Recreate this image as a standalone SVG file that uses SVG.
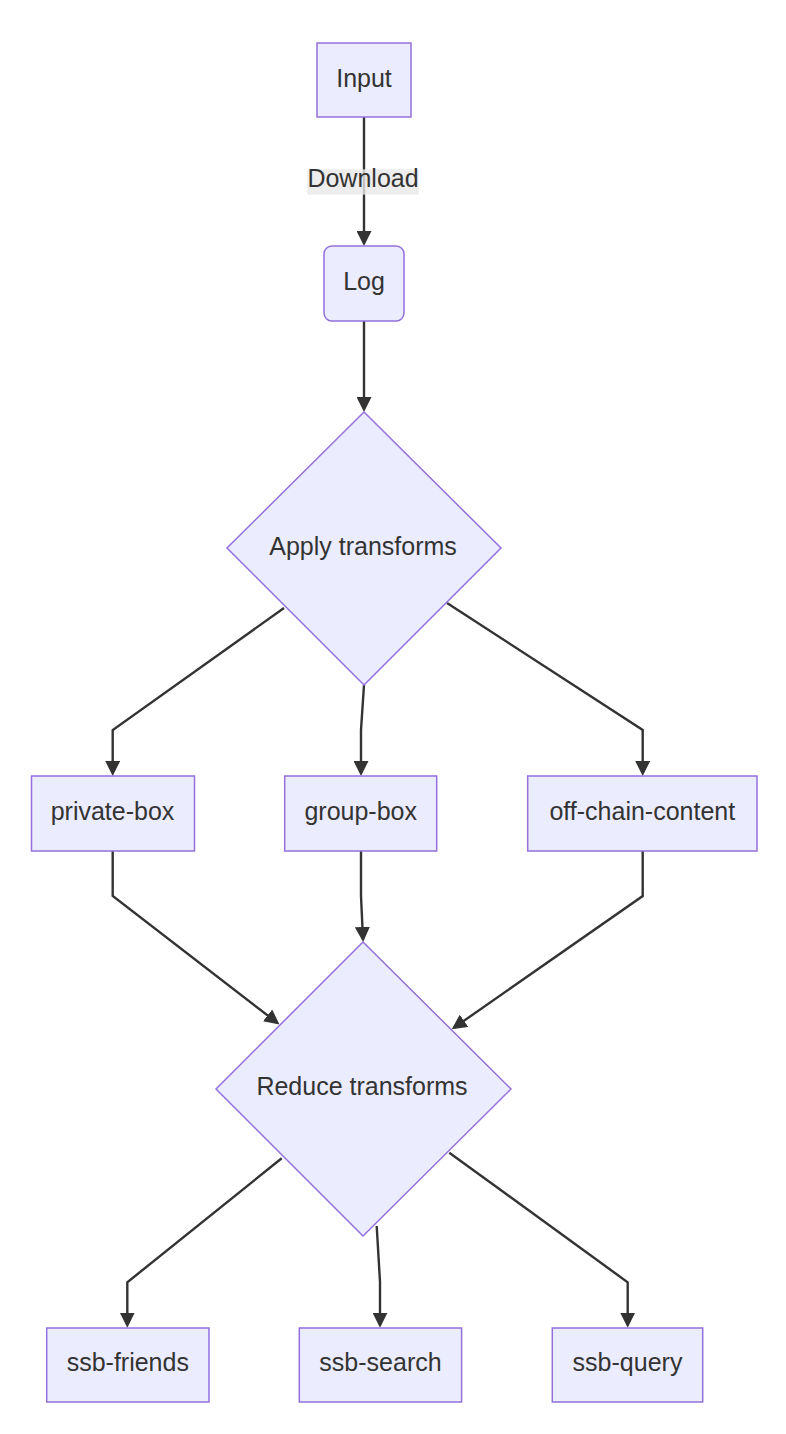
<svg xmlns="http://www.w3.org/2000/svg" width="786" height="1434" viewBox="0 0 786 1434">
<style>
.node rect, .node polygon { fill: #ECECFF; stroke: #9370DB; stroke-width: 1.5; }
.node text { font-family: "Liberation Sans", Arial, sans-serif; font-size: 25px; fill: #333333; text-anchor: middle; }
.edge { fill: none; stroke: #333333; stroke-width: 2.4; marker-end: url(#arrow); }
.elabel rect { fill: #e8e8e8; opacity: 0.8; }
.elabel text { font-family: "Liberation Sans", Arial, sans-serif; font-size: 25px; fill: #333333; text-anchor: middle; }
</style>
<defs>
<marker id="arrow" viewBox="0 0 15 15" refX="12" refY="7.5" markerWidth="15" markerHeight="15" markerUnits="userSpaceOnUse" orient="auto">
<path d="M0,0 L15,7.5 L0,15 z" fill="#333333"/>
</marker>
</defs>
<rect width="786" height="1434" fill="#ffffff"/>
<g id="connectors">
<path class="edge" d="M364,117 L364,243"/>
<path class="edge" d="M364,321 L364,370 L364,409"/>
<path class="edge" d="M284,608 L112.7,730 L112.7,773"/>
<path class="edge" d="M364,685 L361,730 L361,773"/>
<path class="edge" d="M447,603 L642.7,730 L642.7,773"/>
<path class="edge" d="M112.7,851 L112.7,896 L277.1,1022.7"/>
<path class="edge" d="M361,851 L361,896 L363,939"/>
<path class="edge" d="M642.7,851 L642.7,896 L454.2,1027.6"/>
<path class="edge" d="M281.7,1158.3 L127.3,1282.3 L127.3,1324.7"/>
<path class="edge" d="M376.7,1226 L380,1282 L380,1324.7"/>
<path class="edge" d="M449.3,1152.7 L627.7,1282.3 L627.7,1324.7"/>
<g class="elabel" id="label-download">
<rect x="307.3" y="169.3" width="111.4" height="25.4"/>
<text x="363" y="187">Download</text>
</g>
</g>
<g class="node" id="input">
<rect x="317" y="43" width="94" height="74"/>
<text x="364" y="86.5">Input</text>
</g>
<g class="node" id="log">
<rect x="324" y="246" width="80" height="75" rx="8" ry="8"/>
<text x="364" y="290">Log</text>
</g>
<g class="node" id="apply">
<polygon points="364,412 501,548 364,685 227,548"/>
<text x="363" y="555">Apply transforms</text>
</g>
<g class="node" id="private-box">
<rect x="31.5" y="776" width="163" height="75"/>
<text x="112.5" y="820">private-box</text>
</g>
<g class="node" id="group-box">
<rect x="284.7" y="776" width="152" height="75"/>
<text x="360.7" y="820">group-box</text>
</g>
<g class="node" id="off-chain-content">
<rect x="527.7" y="776" width="229.3" height="75"/>
<text x="642.3" y="820">off-chain-content</text>
</g>
<g class="node" id="reduce">
<polygon points="363,942 511,1089 363,1236 216,1089"/>
<text x="362" y="1095">Reduce transforms</text>
</g>
<g class="node" id="ssb-friends">
<rect x="46.7" y="1328" width="162.3" height="74"/>
<text x="127.8" y="1371">ssb-friends</text>
</g>
<g class="node" id="ssb-search">
<rect x="299.3" y="1328" width="162.3" height="74"/>
<text x="380.5" y="1371">ssb-search</text>
</g>
<g class="node" id="ssb-query">
<rect x="552.3" y="1328" width="150.4" height="74"/>
<text x="627.5" y="1371">ssb-query</text>
</g>
</svg>
